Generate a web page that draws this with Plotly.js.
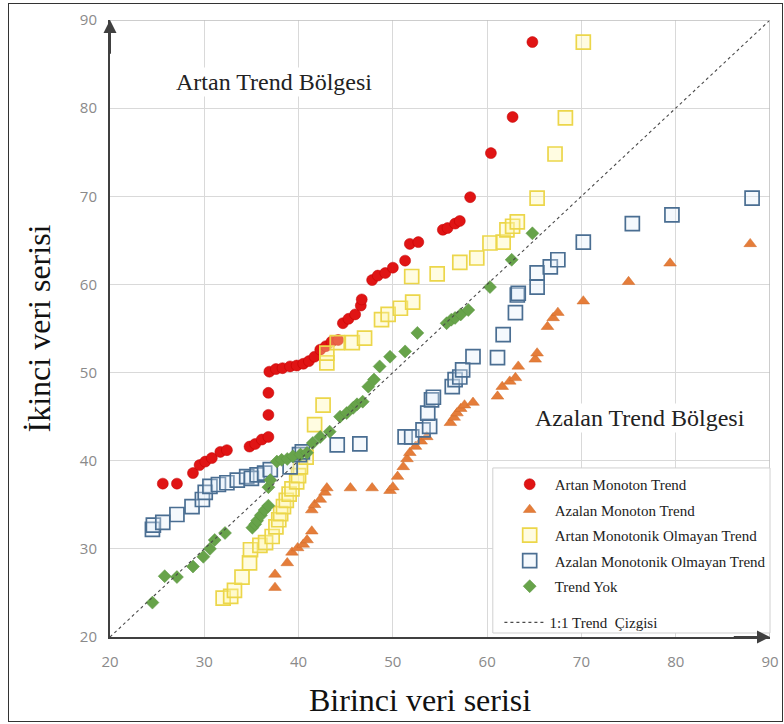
<!DOCTYPE html>
<html>
<head>
<meta charset="utf-8">
<script src="https://cdn.plot.ly/plotly-3.0.1.min.js"></script>
<style>
  html, body { margin: 0; padding: 0; background: #ffffff; }
  #wrap { position: relative; width: 784px; height: 724px; }
  #chart { position: absolute; left: 0; top: 0; width: 784px; height: 724px; }
  #frame { position: absolute; left: 8px; top: 3px; width: 773px; height: 717px;
           border: 1.5px solid #333333; pointer-events: none; }
</style>
</head>
<body>
<div id="wrap">
  <div id="chart"></div>
  <div id="frame"></div>
</div>
<script>
// Artan Monoton Trend
const redX = [25.6,27.1,28.8,29.5,30.1,30.8,31.7,32.4,34.8,35.4,36.1,36.8,36.8,36.8,36.9,37.6,38.3,39.1,39.8,40.5,41.1,41.7,42.3,42.9,43.5,44.2,44.7,45.3,46.0,46.6,46.7,47.8,48.4,49.2,50.0,51.3,51.8,52.7,55.3,55.8,56.6,57.1,58.2,60.4,62.7,64.8];
const redY = [37.4,37.4,38.6,39.5,39.9,40.3,41.0,41.2,41.6,41.9,42.4,42.7,45.2,47.7,50.1,50.4,50.5,50.7,50.8,51.0,51.3,51.8,52.6,53.0,53.5,53.7,55.6,56.1,56.6,57.6,58.3,60.5,61.0,61.3,61.9,62.7,64.6,64.8,66.2,66.4,66.9,67.2,69.9,74.9,79.0,87.5];

// Azalan Monoton Trend
const orX = [37.5,37.5,38.8,39.3,39.9,40.5,40.9,41.4,41.4,41.7,42.3,42.8,43.0,45.5,47.8,49.7,50.0,50.5,51.1,51.5,51.8,52.4,53.0,53.6,56.1,56.5,56.8,57.2,57.6,58.5,61.1,61.6,62.4,63.0,63.3,65.1,65.3,66.4,67.0,67.5,70.2,75.0,79.4,87.9];
const orY = [25.6,27.1,28.4,29.6,30.1,30.5,31.0,32.0,34.4,35.0,35.6,36.4,36.9,36.9,36.9,36.6,37.0,38.2,39.3,40.2,40.9,41.6,42.2,42.7,44.3,44.9,45.4,45.9,46.3,46.6,47.3,48.4,49.0,49.4,50.7,51.5,52.2,55.2,56.2,56.8,58.1,60.3,62.4,64.6];

// Artan Monotonik Olmayan Trend
const yeX = [32.0,32.8,33.2,34.0,34.8,34.9,35.9,36.5,37.2,37.6,37.9,38.1,38.4,38.7,39.0,39.3,39.8,40.0,40.2,40.8,41.7,42.6,43.0,43.0,44.1,45.7,47.0,48.8,49.5,50.8,52.1,52.0,54.7,57.1,58.9,60.3,61.7,62.1,62.7,63.2,65.3,67.2,68.3,70.2];
const yeY = [24.4,24.6,25.3,26.8,28.4,29.9,30.4,30.7,31.4,32.5,33.3,34.0,34.8,35.5,36.2,36.8,37.6,38.3,39.3,40.4,44.1,46.3,51.1,52.2,53.4,53.4,53.9,56.0,56.6,57.3,58.0,60.9,61.2,62.5,63.0,64.7,64.8,66.2,66.6,67.1,69.8,74.8,78.9,87.5];

// Azalan Monotonik Olmayan Trend
const blX = [24.5,24.6,25.6,27.1,28.7,29.8,30.1,30.6,31.5,32.4,33.5,34.5,35.0,35.6,36.4,37.0,39.1,40.1,40.4,44.1,46.5,51.3,52.0,53.2,53.9,53.7,54.1,54.3,56.3,56.6,57.1,57.4,58.5,61.1,61.7,63.0,63.2,63.3,65.3,65.3,66.7,67.5,70.2,75.4,79.6,88.1];
const blY = [32.2,32.7,33.0,33.9,34.8,35.6,36.4,37.1,37.3,37.5,37.8,38.2,38.0,38.4,38.6,39.0,39.3,40.7,41.0,41.8,41.9,42.7,42.7,43.5,43.9,45.4,46.9,47.2,48.4,49.2,49.5,50.3,51.8,51.7,54.3,56.8,58.8,59.0,59.7,61.3,62.0,62.8,64.8,66.9,67.9,69.8];

// Trend Yok
const grX = [24.5,25.8,27.1,28.8,29.9,30.6,31.1,32.2,35.1,35.4,35.6,36.0,36.4,36.8,36.8,37.0,37.7,38.2,38.8,39.4,40.2,40.9,41.5,42.3,43.3,44.4,45.1,45.8,46.2,46.8,47.4,48.0,48.6,49.7,51.3,52.6,55.7,56.2,56.6,57.2,58.0,60.3,62.6,64.8];
const grY = [23.9,26.9,26.8,28.0,29.1,30.0,31.0,31.8,32.4,32.8,33.2,33.8,34.4,34.9,37.0,37.8,39.9,40.1,40.2,40.5,40.7,40.9,42.0,42.7,43.3,45.0,45.4,46.0,46.4,46.7,48.4,49.2,50.7,51.8,52.4,54.5,55.6,56.0,56.2,56.6,57.1,59.7,62.8,65.8];

// 1:1 reference line
const lineX = [20, 90];
const lineY = [20, 90];

const tickVals = [20, 30, 40, 50, 60, 70, 80, 90];

const serif = '"Liberation Serif", "Times New Roman", serif';
const narrow = '"Liberation Sans Narrow", "Arial Narrow", "Open Sans", sans-serif';

const traces = [
  {
    x: redX, y: redY, type: 'scatter', mode: 'markers', name: 'Artan Monoton Trend',
    legendgroup: 'a',
    marker: { symbol: 'circle', size: 11, color: '#e01414', line: { color: '#c00000', width: 0.5 } }
  },
  {
    x: orX, y: orY, type: 'scatter', mode: 'markers', name: 'Azalan Monoton Trend',
    legendgroup: 'b',
    marker: { symbol: 'triangle-up', size: 11, color: '#e57d3a', line: { color: '#d06a28', width: 0.5 } }
  },
  {
    x: yeX, y: yeY, type: 'scatter', mode: 'markers', name: 'Artan Monotonik Olmayan Trend',
    legendgroup: 'c',
    marker: { symbol: 'square', size: 14, color: 'rgba(255,245,170,0.35)', line: { color: '#ecd64a', width: 1.7 } }
  },
  {
    x: blX, y: blY, type: 'scatter', mode: 'markers', name: 'Azalan Monotonik Olmayan Trend',
    legendgroup: 'd',
    marker: { symbol: 'square', size: 14, color: 'rgba(225,238,250,0.35)', line: { color: '#4a6e92', width: 1.7 } }
  },
  {
    x: grX, y: grY, type: 'scatter', mode: 'markers', name: 'Trend Yok',
    legendgroup: 'e',
    marker: { symbol: 'diamond', size: 10, color: '#67a34a', line: { color: '#5a9440', width: 0.5 } }
  },
  {
    x: lineX, y: lineY, type: 'scatter', mode: 'lines', name: '1:1 Trend  Çizgisi',
    legend: 'legend2',
    line: { color: '#4a4a4a', width: 1.1, dash: 'dot' }
  }
];

const axisCommon = {
  range: [20, 90],
  tickvals: tickVals,
  showgrid: true,
  gridcolor: '#d9d9d9',
  gridwidth: 1.2,
  zeroline: false,
  showline: true,
  linecolor: '#404040',
  linewidth: 2,
  ticks: '',
  tickfont: { family: narrow, size: 15, color: '#8a8a8a' },
  fixedrange: true
};

const legendFont = { family: serif, size: 15, color: '#222222' };

const layout = {
  width: 784,
  height: 724,
  margin: { l: 110, r: 14, t: 20, b: 87 },
  paper_bgcolor: '#ffffff',
  plot_bgcolor: '#ffffff',
  showlegend: true,
  xaxis: Object.assign({}, axisCommon, {
    ticklabelstandoff: 10
  }),
  yaxis: Object.assign({}, axisCommon, {
    ticklabelstandoff: 8,
    title: { text: 'İkinci veri serisi', font: { family: serif, size: 32, color: '#111111' }, standoff: 20 }
  }),
  legend: {
    x: 0.598, y: 0.274, xanchor: 'left', yanchor: 'top',
    bgcolor: 'rgba(0,0,0,0)',
    borderwidth: 0,
    font: legendFont,
    tracegroupgap: 3,
    itemwidth: 40
  },
  legend2: {
    x: 0.59, y: 0.05, xanchor: 'left', yanchor: 'top',
    bgcolor: 'rgba(0,0,0,0)',
    borderwidth: 0,
    font: legendFont,
    itemwidth: 40
  },
  shapes: [
    // light frame on top and right edges of the plot area
    { type: 'line', xref: 'x', yref: 'y', x0: 20, y0: 90, x1: 90, y1: 90, line: { color: '#bdbdbd', width: 1.5 } },
    { type: 'line', xref: 'x', yref: 'y', x0: 90, y0: 20, x1: 90, y1: 90, line: { color: '#bdbdbd', width: 1.5 } },
    // legend box
    { type: 'rect', xref: 'paper', yref: 'paper', x0: 0.580, x1: 1.0, y0: 0.0065, y1: 0.274,
      layer: 'above', fillcolor: '#ffffff', line: { color: '#d0d0d0', width: 1 } }
  ],
  annotations: [
    // x axis title
    {
      x: 0.47, y: -0.102, xref: 'paper', yref: 'paper', xanchor: 'center', yanchor: 'middle',
      text: 'Birinci veri serisi', showarrow: false,
      font: { family: serif, size: 32, color: '#111111' }
    },
    {
      x: 37.4, y: 83.0, xref: 'x', yref: 'y', text: 'Artan Trend Bölgesi', showarrow: false,
      font: { family: serif, size: 24, color: '#222222' }, bgcolor: '#ffffff'
    },
    {
      x: 76.2, y: 44.9, xref: 'x', yref: 'y', text: 'Azalan Trend Bölgesi', showarrow: false,
      font: { family: serif, size: 24, color: '#222222' }, bgcolor: '#ffffff'
    },
    // arrowheads at the ends of both axes
    {
      x: 20, y: 90, ax: 20, ay: 86, xref: 'x', yref: 'y', axref: 'x', ayref: 'y', text: '',
      showarrow: true, arrowhead: 2, arrowsize: 1.3, arrowwidth: 2, arrowcolor: '#404040'
    },
    {
      x: 90, y: 20, ax: 86, ay: 20, xref: 'x', yref: 'y', axref: 'x', ayref: 'y', text: '',
      showarrow: true, arrowhead: 2, arrowsize: 1.3, arrowwidth: 2, arrowcolor: '#404040'
    }
  ]
};

Plotly.newPlot('chart', traces, layout, { displayModeBar: false, staticPlot: true });
</script>
</body>
</html>
